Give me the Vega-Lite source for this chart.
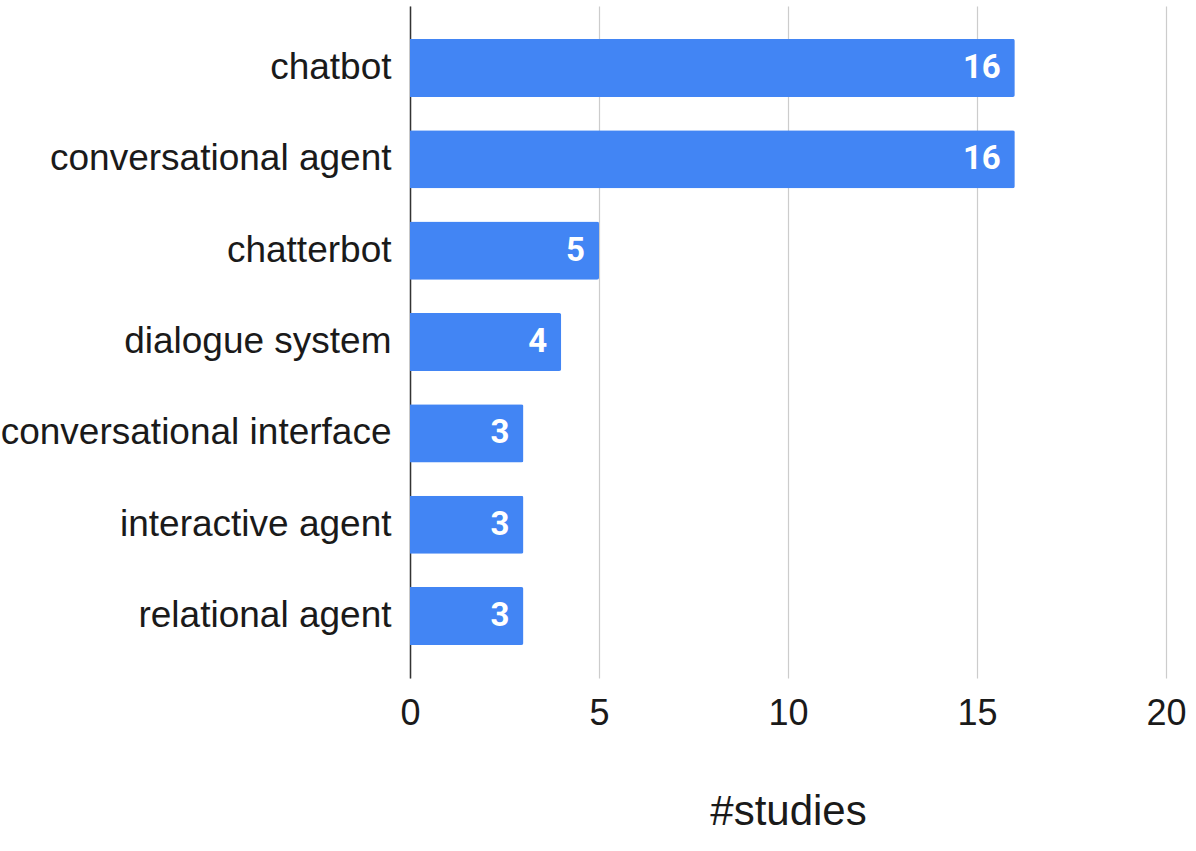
{
  "$schema": "https://vega.github.io/schema/vega-lite/v6.json",
  "width": 756,
  "height": 672,
  "autosize": {"type": "none"},
  "padding": {"left": 410, "top": 6, "right": 30, "bottom": 173},
  "background": "white",
  "config": {"view": {"stroke": null}},
  "data": {"values": [
    {"term": "chatbot", "studies": 16},
    {"term": "conversational agent", "studies": 16},
    {"term": "chatterbot", "studies": 5},
    {"term": "dialogue system", "studies": 4},
    {"term": "conversational interface", "studies": 3},
    {"term": "interactive agent", "studies": 3},
    {"term": "relational agent", "studies": 3}
  ]},
  "encoding": {
    "y": {
      "field": "term", "type": "nominal", "sort": null,
      "scale": {"paddingInner": 0.365, "paddingOuter": 0.36},
      "axis": {
        "title": null, "ticks": false, "labelPadding": 19,
        "labelFont": "Liberation Sans", "labelFontSize": 37, "labelColor": "#1a1a1a",
        "domainColor": "#333333", "domainWidth": 1.5, "labelLimit": 500, "grid": false
      }
    },
    "x": {
      "field": "studies", "type": "quantitative",
      "scale": {"domain": [0, 20], "nice": false},
      "axis": {
        "values": [0, 5, 10, 15, 20], "title": "#studies", "domain": false, "ticks": false,
        "grid": true, "gridColor": "#cccccc", "gridWidth": 1.2,
        "labelFont": "Liberation Sans", "labelFontSize": 36, "labelColor": "#1a1a1a", "labelPadding": 18,
        "labelFlush": false,
        "titleFont": "Liberation Sans", "titleFontSize": 42, "titleFontWeight": "normal", "titleColor": "#1a1a1a", "titlePadding": 60
      }
    }
  },
  "layer": [
    {"mark": {"type": "bar", "color": "#4285F4", "cornerRadiusEnd": 2}},
    {"mark": {"type": "text", "align": "right", "baseline": "middle", "dx": -14, "color": "white", "font": "Roboto", "fontWeight": "bold", "fontSize": 33},
     "encoding": {"text": {"field": "studies", "type": "quantitative"}}}
  ]
}
